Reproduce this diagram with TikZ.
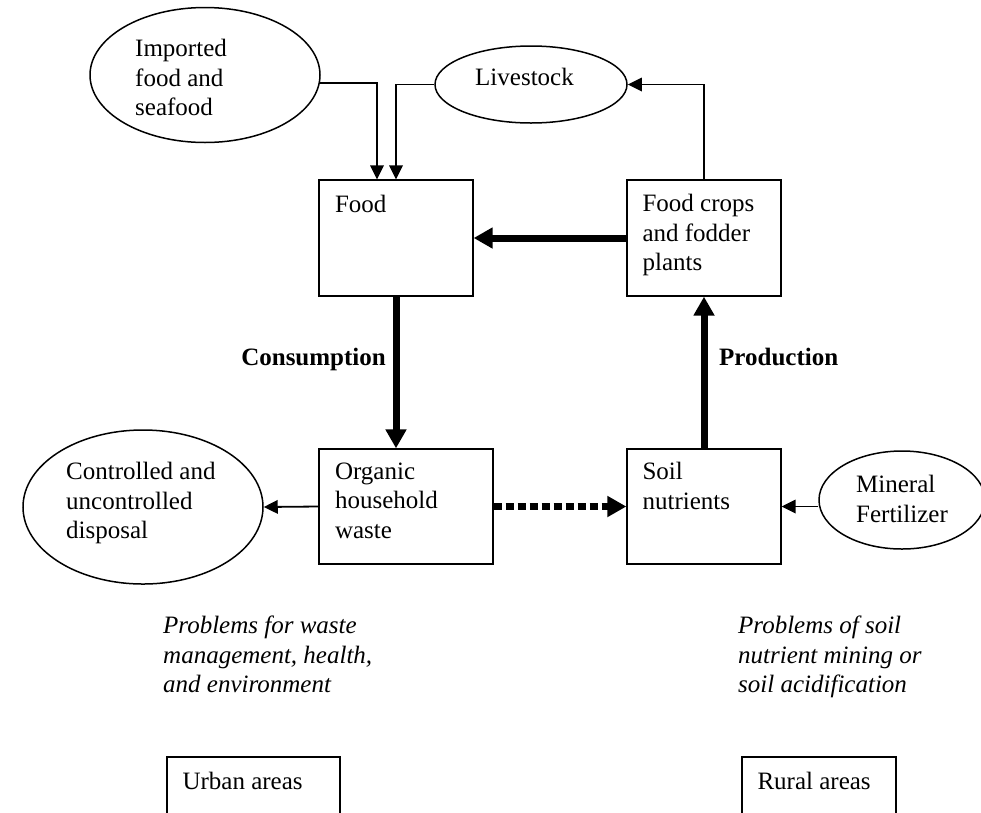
\documentclass[tikz,border=0pt]{standalone}
\usepackage{fontspec}
\setmainfont{Liberation Serif}
\usetikzlibrary{shapes}
\usetikzlibrary{arrows.meta}
\newcommand{\diagfont}{\fontsize{25}{29.5}\selectfont}
\tikzset{
	box node/.style={rectangle,draw,line width=1.3pt,inner sep=0pt},
	oval node/.style={ellipse,draw,line width=1.5pt,inner sep=0pt},
	box label/.style={anchor=north west,inner sep=0pt,align=left,font=\diagfont},
	thin flow/.style={line width=1.8pt,-{Triangle[length=14pt,width=13.5pt]}},
	thick flow/.style={line width=7pt,-{Triangle[length=19pt,width=20pt]}},
	dotted flow/.style={thick flow,dash pattern=on 8pt off 4pt}
}

\begin{document}
\begin{tikzpicture}[x=1pt,y=-1pt]
	\useasboundingbox (0,0) rectangle (981,812);
	\clip (0,0) rectangle (981,812);
	% boxes of the cycle
	\node [box node,minimum width=154pt,minimum height=116pt,
		label={[box label,xshift=16.5pt,yshift=-15.5pt]north west:Food}] (food) at (396,238) {};
	\node [box node,minimum width=154pt,minimum height=116pt,
		label={[box label,xshift=16pt,yshift=-15pt]north west:{Food crops\\and fodder\\plants}}] (crops) at (704,238) {};
	\node [box node,minimum width=174pt,minimum height=115pt,
		label={[box label,xshift=16.5pt,yshift=-14pt]north west:{Organic\\household\\waste}}] (organic) at (406,506.5) {};
	\node [box node,minimum width=154pt,minimum height=115pt,
		label={[box label,xshift=16pt,yshift=-14pt]north west:{Soil\\nutrients}}] (soil) at (704,506.5) {};
	% ovals
	\node [oval node,minimum width=230pt,minimum height=135pt,
		label={[box label,xshift=-70pt,yshift=-32.5pt]north:{Imported\\food and\\seafood}}] (imported) at (205,75) {};
	\node [oval node,minimum width=192pt,minimum height=77pt,
		label={[box label,xshift=-56pt,yshift=-23pt]north:Livestock}] (livestock) at (531,84.5) {};
	\node [oval node,minimum width=240pt,minimum height=154pt,
		label={[box label,xshift=-77pt,yshift=-33pt]north:{Controlled and\\uncontrolled\\disposal}}] (disposal) at (143,507) {};
	\node [oval node,minimum width=166pt,minimum height=98pt,
		label={[box label,xshift=-46pt,yshift=-25pt]north:{Mineral\\Fertilizer}}] (mineral) at (902,500) {};
	% areas
	\node [box node,minimum width=173pt,minimum height=115pt,
		label={[box label,xshift=16pt,yshift=-16pt]north west:Urban areas}] (urban) at (253.5,814.5) {};
	\node [box node,minimum width=154pt,minimum height=115pt,
		label={[box label,xshift=16pt,yshift=-16pt]north west:Rural areas}] (rural) at (819,814.5) {};
	% texts
	\node [anchor=base east,inner sep=0pt,font=\diagfont\bfseries] (consumption) at (386,365) {Consumption};
	\node [anchor=base west,inner sep=0pt,font=\diagfont\bfseries] (production) at (719,365) {Production};
	\node [box label,font=\diagfont\itshape] (urbanproblems) at (163,616) {Problems for waste\\management, health,\\and environment};
	\node [box label,font=\diagfont\itshape] (ruralproblems) at (738,616) {Problems of soil\\nutrient mining or\\soil acidification};
	% flows
	\draw [thin flow] (imported.-4.5) -| ([xshift=-19pt]food.north);
	\draw [thin flow] (livestock.west) -| (food.north);
	\draw [thin flow] (crops.north) |- (livestock.east);
	\draw [thick flow] (crops.west) -- (food.east);
	\draw [thick flow] (food.south) -- (food.south |- organic.north);
	\draw [thick flow] (soil.north) -- (crops.south);
	\draw [thin flow] (organic.west) -- (disposal.east);
	\draw [dotted flow] (organic.east) -- (soil.west);
	\draw [thin flow] (soil.east -| mineral.west) -- (soil.east);
\end{tikzpicture}
\end{document}
